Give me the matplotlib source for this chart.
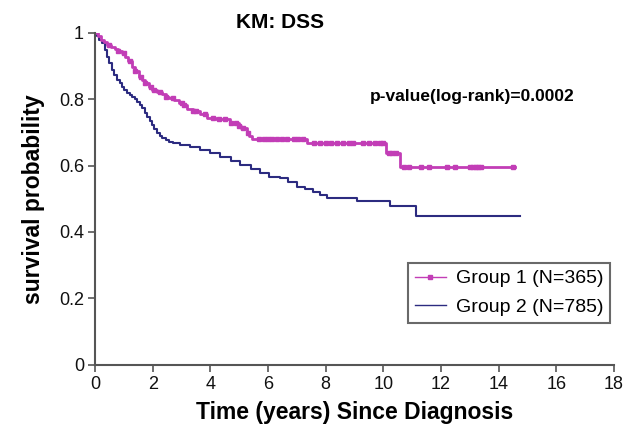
import matplotlib
matplotlib.use("Agg")
import matplotlib.pyplot as plt
from matplotlib.lines import Line2D

plt.rcParams['font.family'] = ['Liberation Sans', 'DejaVu Sans']

# ---- data ----
g1_time = [0, 0.10, 0.20, 0.32, 0.42, 0.55, 0.68, 0.80, 0.92, 1.05, 1.15, 1.28, 1.40, 1.51, 1.62,
           1.74, 1.86, 1.98, 2.15, 2.32, 2.45, 2.55, 2.75, 2.90, 3.05, 3.20, 3.40, 3.65, 3.87,
           4.20, 4.68, 5.00, 5.08, 5.26, 5.35, 5.45, 7.35, 10.09, 10.57, 14.56]
g1_surv = [1.0, 0.99, 0.98, 0.972, 0.965, 0.958, 0.952, 0.946, 0.94, 0.929, 0.915, 0.898, 0.885, 0.868, 0.858,
           0.848, 0.838, 0.828, 0.823, 0.815, 0.808, 0.803, 0.797, 0.79, 0.782, 0.772, 0.765, 0.755, 0.745,
           0.74, 0.73, 0.72, 0.712, 0.697, 0.688, 0.680, 0.668, 0.638, 0.597, 0.597]
g1_censor = [0.5, 0.8, 1.0, 1.2, 1.4, 1.6, 1.75, 1.95, 2.05, 2.25, 2.45, 2.7, 3.0, 3.1, 3.4, 3.5,
             3.8, 4.1, 4.3, 4.5, 4.7, 4.9, 5.0, 5.15, 5.3,
             5.7, 5.85, 6.0, 6.15, 6.3, 6.5, 6.65, 6.9, 7.05, 7.2,
             7.6, 7.8, 8.0, 8.2, 8.4, 8.6, 8.8, 8.95, 9.3, 9.5, 9.7, 9.9, 10.0,
             10.2, 10.3, 10.45,
             10.7, 10.9, 11.3, 11.6, 12.2, 12.5, 13.0, 13.1, 13.2, 13.3, 13.4, 14.5]

g2_time = [0, 0.07, 0.15, 0.24, 0.33, 0.42, 0.50, 0.59, 0.67, 0.76, 0.85, 0.94, 1.02, 1.11, 1.20,
           1.28, 1.37, 1.46, 1.55, 1.63, 1.72, 1.80, 1.90, 1.98, 2.06, 2.15, 2.24, 2.32, 2.45,
           2.55, 2.70, 2.95, 3.30, 3.64, 4.00, 4.33, 4.70, 5.03, 5.40, 5.72, 6.05, 6.41, 6.70,
           6.99, 7.30, 7.57, 7.80, 8.03, 9.07, 10.22, 11.15, 14.73]
g2_surv = [1.0, 0.99, 0.98, 0.969, 0.95, 0.929, 0.91, 0.888, 0.873, 0.858, 0.848, 0.838, 0.828, 0.818, 0.813,
           0.808, 0.80, 0.793, 0.783, 0.773, 0.76, 0.748, 0.735, 0.722, 0.71, 0.697, 0.69, 0.682, 0.676,
           0.672, 0.667, 0.662, 0.655, 0.647, 0.637, 0.627, 0.614, 0.602, 0.59, 0.577, 0.567, 0.562, 0.55,
           0.535, 0.528, 0.52, 0.51, 0.501, 0.492, 0.477, 0.449, 0.449]

labels = ["Group 1 (N=365)", "Group 2 (N=785)"]
colors = ["#C23DB6", "#2C2B80"]
x_ticks = [0, 2, 4, 6, 8, 10, 12, 14, 16, 18]
y_ticks = [0, 0.2, 0.4, 0.6, 0.8, 1.0]
y_ticklabels = ["0", "0.2", "0.4", "0.6", "0.8", "1"]
title = "KM: DSS"
pval_text = "p-value(log-rank)=0.0002"


def step_value(times, survs, t):
    v = survs[0]
    for tt, ss in zip(times, survs):
        if tt <= t:
            v = ss
    return v


fig = plt.figure(figsize=(6.23, 4.33), dpi=100)
ax = fig.add_axes([95 / 623, 1 - 364.5 / 433, (614 - 95) / 623, (364.5 - 33) / 433])

ax.step(g2_time, g2_surv, where='post', color=colors[1], lw=1.5)
ax.step(g1_time, g1_surv, where='post', color=colors[0], lw=2.0)
cy = [step_value(g1_time, g1_surv, t) for t in g1_censor]
ax.plot(g1_censor, cy, ls='none', marker='s', ms=2.8, color=colors[0], mec=colors[0])

ax.set_xlim(0, 18)
ax.set_ylim(0, 1)
ax.set_xticks(x_ticks)
ax.set_yticks(y_ticks)
ax.set_yticklabels(y_ticklabels)
for s in ['top', 'right']:
    ax.spines[s].set_visible(False)
for s in ['left', 'bottom']:
    ax.spines[s].set_color('#555555')
    ax.spines[s].set_linewidth(1.5)
ax.tick_params(axis='both', direction='out', length=5, width=1.2, color='#555555',
               labelsize=13, labelcolor='#111111', pad=3)

ax.set_xlabel("Time (years) Since Diagnosis", fontsize=16.5, fontweight='bold', labelpad=6)
ax.set_ylabel("survival probability", fontsize=16.5, fontweight='bold', labelpad=10)

fig.text(280 / 623, 1 - 22 / 433, title, fontsize=15, fontweight='bold', ha='center', va='center')
fig.text(370 / 623, 1 - 97 / 433, pval_text, fontsize=12.5, fontweight='bold', ha='left', va='center')

handles = [Line2D([], [], color=colors[0], lw=1, marker='s', ms=2.5),
           Line2D([], [], color=colors[1], lw=1)]
leg = ax.legend(handles, labels, loc='upper left', bbox_to_anchor=((408 - 95) / 519, (364.5 - 263) / 331.5),
                frameon=True, fancybox=False, fontsize=14, handlelength=1.6, handletextpad=0.5,
                borderpad=0.35, labelspacing=0.55, borderaxespad=0)
leg.get_frame().set_edgecolor('#444444')
leg.get_frame().set_linewidth(1.5)

fig.savefig("out.png", dpi=100)
